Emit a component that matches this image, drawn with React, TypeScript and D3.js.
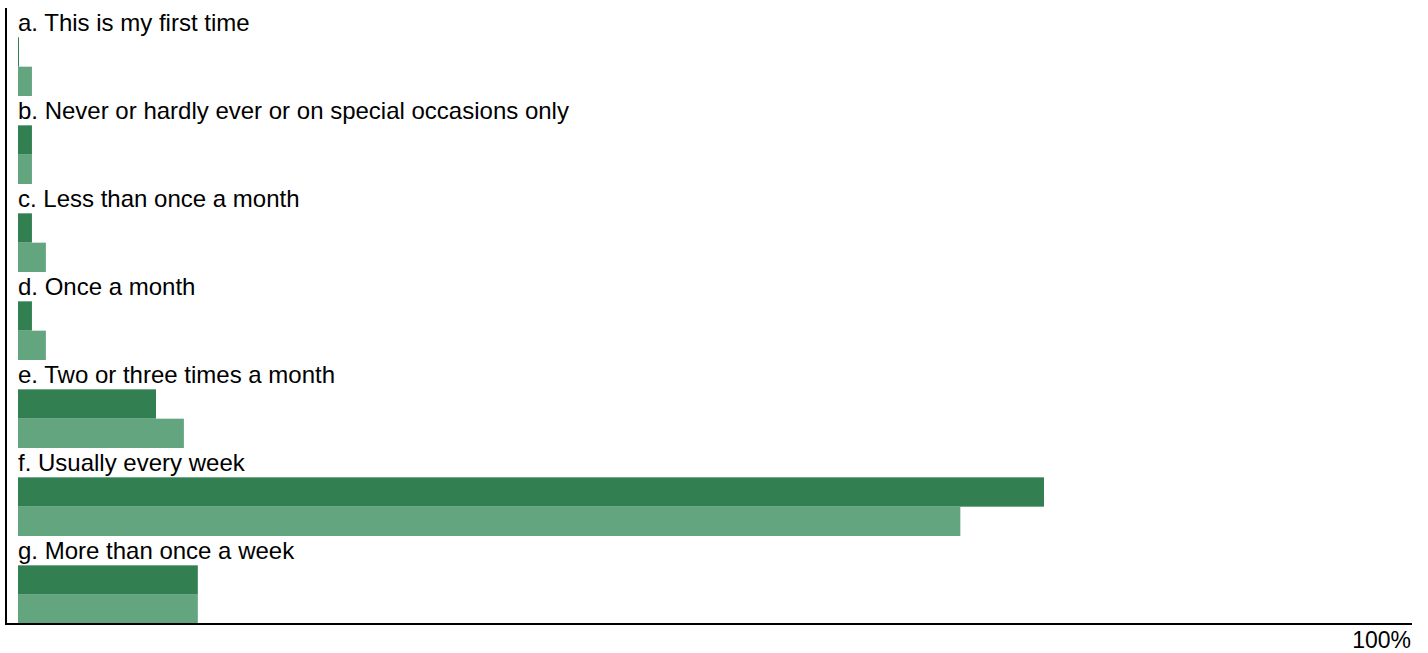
import React from "react";
import * as d3 from "d3";

const categories = [
  "a. This is my first time",
  "b. Never or hardly ever or on special occasions only",
  "c. Less than once a month",
  "d. Once a month",
  "e. Two or three times a month",
  "f. Usually every week",
  "g. More than once a week",
];
const seriesDark = [0, 1.0, 1.0, 1.0, 9.9, 73.6, 12.9];
const seriesLight = [1.0, 1.0, 2.0, 2.0, 11.9, 67.6, 12.9];
const axisLabel = "100%";

const W = 1428;
const H = 653;
const margin = { left: 18, right: 16, top: 8, bottom: 29 };
const DARK = "#327f52";
const LIGHT = "#63a57f";
const FS = 24;

export default function App() {
  const x = d3.scaleLinear().domain([0, 100]).range([margin.left, W - margin.right]);
  const rows = d3
    .scaleBand<string>()
    .domain(categories)
    .range([margin.top, H - margin.bottom]);
  const sub = d3
    .scaleBand<string>()
    .domain(["label", "dark", "light"])
    .range([0, rows.bandwidth()]);
  const bottom = H - margin.bottom;
  const axisX = margin.left - 12;

  return (
    <svg
      width={W}
      height={H}
      style={{ position: "absolute", left: 0, top: 0, fontFamily: "Liberation Sans, Arial, sans-serif" }}
    >
      {categories.map((c, i) => {
        const y0 = rows(c)!;
        const wd = x(seriesDark[i]) - x(0);
        const wl = x(seriesLight[i]) - x(0);
        return (
          <g key={c}>
            <text
              x={x(0)}
              y={y0 + sub("label")! + sub.bandwidth() / 2}
              dy="0.35em"
              fontSize={FS}
              fill="#000"
            >
              {c}
            </text>
            <rect
              x={x(0)}
              y={y0 + sub("dark")!}
              width={Math.max(wd, 1)}
              height={sub.bandwidth()}
              fill={DARK}
            />
            <rect
              x={x(0)}
              y={y0 + sub("light")!}
              width={Math.max(wl, 1)}
              height={sub.bandwidth()}
              fill={LIGHT}
            />
          </g>
        );
      })}
      <line x1={axisX} x2={axisX} y1={margin.top} y2={bottom + 1} stroke="#000" strokeWidth={2} />
      <line x1={axisX - 1} x2={x(100)} y1={bottom} y2={bottom} stroke="#000" strokeWidth={2} />
      <text x={x(100) - 1} y={bottom + 24} fontSize={23} textAnchor="end" fill="#000">
        {axisLabel}
      </text>
    </svg>
  );
}
